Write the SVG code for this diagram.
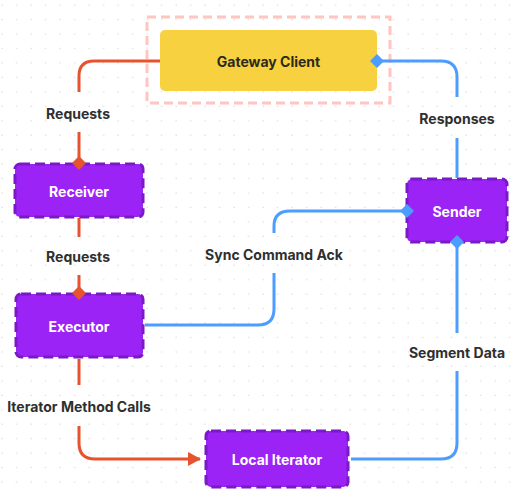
<svg xmlns="http://www.w3.org/2000/svg" width="521" height="492" viewBox="0 0 521 492">
<defs>
<pattern id="dots" x="0" y="0" width="14.5" height="14.45" patternUnits="userSpaceOnUse">
<rect x="1.5" y="4.5" width="1.3" height="1.3" fill="#dcdcdc"/>
</pattern>
<marker id="arrRed" viewBox="0 0 13 14" refX="12" refY="7" markerWidth="13" markerHeight="14" markerUnits="userSpaceOnUse" orient="auto">
<path d="M0,0 L13,7 L0,14 Z" fill="#E8532F"/>
</marker>
<style>
.bg{fill:url(#dots)}
.node{fill:#9B23F5;stroke:#7A1AC6;stroke-width:3;stroke-dasharray:10 5}
.nt{font-family:Inter,"Liberation Sans",sans-serif;font-weight:700;font-size:14px;fill:#ffffff;text-anchor:middle;dominant-baseline:central}
.lbl{font-family:Inter,"Liberation Sans",sans-serif;font-weight:700;font-size:14px;fill:#2f2f2f;text-anchor:middle;dominant-baseline:central}
.red{fill:none;stroke:#E8532F;stroke-width:3}
.blue{fill:none;stroke:#4D9CFF;stroke-width:3}
.dr{fill:#E8532F}
.db{fill:#4D9CFF}
</style>
</defs>
<rect x="0" y="0" width="521" height="492" fill="#ffffff"/>
<rect x="0" y="0" width="521" height="492" class="bg"/>

<g id="labels">
<text class="lbl" x="78" y="113">Requests</text>
<text class="lbl" x="78" y="256">Requests</text>
<text class="lbl" x="79" y="406">Iterator Method Calls</text>
<text class="lbl" x="274" y="254">Sync Command Ack</text>
<text class="lbl" x="457" y="118">Responses</text>
<text class="lbl" x="457" y="352">Segment Data</text>
</g>

<g id="gateway-client">
<rect x="147" y="17" width="243" height="86" fill="none" stroke="#FFC6BF" stroke-width="3" stroke-dasharray="9 5"/>
<rect x="160" y="30" width="217" height="61" rx="5" fill="#F7D13F"/>
<text x="268.5" y="61" font-family="Inter,'Liberation Sans',sans-serif" font-weight="700" font-size="14" fill="#2c2a20" text-anchor="middle" dominant-baseline="central">Gateway Client</text>
</g>
<g id="receiver">
<rect class="node" x="15" y="164" width="128" height="53" rx="5"/>
<text class="nt" x="79" y="191">Receiver</text>
</g>
<g id="executor">
<rect class="node" x="16" y="294" width="127" height="63" rx="5"/>
<text class="nt" x="79" y="326">Executor</text>
</g>
<g id="sender">
<rect class="node" x="407" y="179" width="100" height="63" rx="5"/>
<text class="nt" x="457" y="211">Sender</text>
</g>
<g id="local-iterator">
<rect class="node" x="206" y="431" width="142" height="56" rx="5"/>
<text class="nt" x="277" y="459">Local Iterator</text>
</g>

<g id="connectors">
<!-- Gateway -> Receiver -->
<path class="red" d="M160,61 L94,61 Q79,61 79,76 L79,92"/>
<path class="red" d="M79,132 L79,163"/>
<path class="dr" d="M79,156 L86,163 L79,170 L72,163 Z"/>
<!-- Receiver -> Executor -->
<path class="red" d="M79,218 L79,237"/>
<path class="red" d="M79,275 L79,293"/>
<path class="dr" d="M79,286 L86,293 L79,300 L72,293 Z"/>
<!-- Executor -> Local Iterator -->
<path class="red" d="M79,359 L79,385"/>
<path class="red" d="M79,426 L79,443 Q79,459 95,459 L200,459" marker-end="url(#arrRed)"/>
<!-- Executor -> Sender -->
<path class="blue" d="M145,325 L258,325 Q274,325 274,309 L274,273"/>
<path class="blue" d="M274,233 L274,226 Q274,211 290,211 L407,211"/>
<path class="db" d="M407,204 L414,211 L407,218 L400,211 Z"/>
<!-- Gateway -> Sender (Responses) -->
<path class="blue" d="M377,61 L441,61 Q457,61 457,77 L457,97"/>
<path class="blue" d="M457,138 L457,178"/>
<path class="db" d="M377,54 L384,61 L377,68 L370,61 Z"/>
<!-- Local Iterator -> Sender (Segment Data) -->
<path class="blue" d="M351,459 L441,459 Q457,459 457,443 L457,371"/>
<path class="blue" d="M457,333 L457,242"/>
<path class="db" d="M457,235 L464,242 L457,249 L450,242 Z"/>
</g>
</svg>
